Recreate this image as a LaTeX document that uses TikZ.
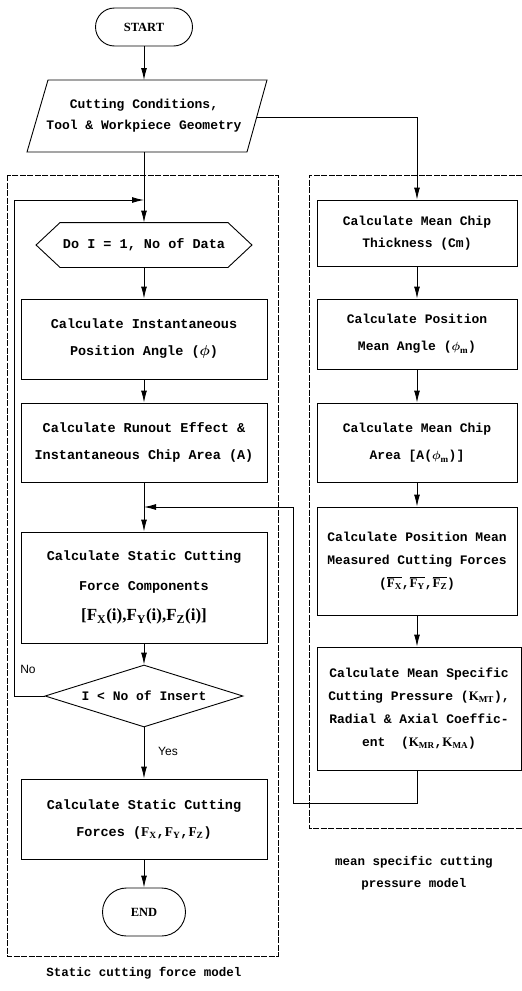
\documentclass[tikz,border=0pt]{standalone}
\usepackage{fontspec}
\usepackage{amsmath}
\setmainfont{Liberation Serif}
\setmonofont{Liberation Mono}
\newfontfamily\sansf{Liberation Sans}
\usetikzlibrary{shapes.geometric,shapes.misc,arrows.meta}
\newcommand{\Fs}[1]{{\rmfamily\bfseries F\textsubscript{#1}}}
\newcommand{\Ks}[1]{{\rmfamily\bfseries K\textsubscript{#1}}}
\newcommand{\Fb}[1]{$\overline{\mathbf{F}_{\mathbf{#1}}}$}
\tikzset{
  lbox/.style={draw, rectangle, minimum width=246, inner sep=2pt, align=center,
    font=\ttfamily\bfseries\fontsize{13.5}{27}\selectfont},
  rbox/.style={draw, rectangle, minimum width=200, inner sep=2pt, align=center,
    font=\ttfamily\bfseries\fontsize{13}{23}\selectfont},
  term/.style={draw, rounded rectangle, inner sep=0pt,
    font=\rmfamily\bfseries\fontsize{12.5}{14}\selectfont},
  plain/.style={inner sep=0pt, align=center, font=\ttfamily\bfseries\fontsize{13}{21}\selectfont},
  frame/.style={line width=0.7pt, dash pattern=on 6pt off 1.5pt},
  flow/.style={-{Latex[length=12pt,width=6pt]}},
}
\begin{document}
\begin{tikzpicture}[x=1pt,y=-1pt,line width=0.9pt]
\useasboundingbox (0,0) rectangle (522,991);

% frames
\draw[frame] (7,175) rectangle (278,956);
\draw[frame] (522,175) -- (309,175) -- (309,828) -- (522,828);

% left column
\node[term, minimum width=97, minimum height=38] (start) at (144,27) {START};
\node[plain, minimum width=200, minimum height=72] (para) at (144,116)
  {Cutting Conditions,\\Tool \& Workpiece Geometry};
\draw (48,80) -- (267,80) -- (247,152) -- (27,152) -- cycle;
\coordinate (paraR) at (257,117);

\node[plain, minimum width=215, minimum height=44, font=\ttfamily\bfseries\fontsize{13.5}{16}\selectfont] (hex) at (144,245) {Do I = 1, No of Data};
\draw (hex.west) -- ([xshift=24pt]hex.north west) -- ([xshift=-24pt]hex.north east)
  -- (hex.east) -- ([xshift=-24pt]hex.south east) -- ([xshift=24pt]hex.south west) -- cycle;

\node[lbox, minimum height=80] (b1) at (144,339)
  {Calculate Instantaneous\\Position Angle ($\boldsymbol{\phi}$)};
\node[lbox, minimum height=79] (b2) at (144,442.5)
  {Calculate Runout Effect \&\\Instantaneous Chip Area (A)};
\node[lbox, minimum height=111, font=\ttfamily\bfseries\fontsize{13.5}{30}\selectfont] (b3) at (144,587.5)
  {Calculate Static Cutting\\Force Components\\{\rmfamily\bfseries\fontsize{17}{20}\selectfont [F\textsubscript{X}(i),F\textsubscript{Y}(i),F\textsubscript{Z}(i)]}};
\node[draw, diamond, aspect=3.2, inner sep=0pt, minimum width=198, minimum height=62,
  font=\ttfamily\bfseries\fontsize{13}{15}\selectfont] (dec) at (144,696) {I < No of Insert};
\node[lbox, minimum height=80] (b4) at (144,819)
  {Calculate Static Cutting\\Forces (\Fs{X},\Fs{Y},\Fs{Z})};
\node[term, minimum width=83, minimum height=48] (end) at (144,912) {END};

\coordinate (loopJ) at (144,200);
\coordinate (fbJ) at (144,507);

\draw[flow] (start) -- (para.south |- 0,80);
\draw[flow] (para.south |- 0,152) -- (hex.north);
\draw[flow] (hex.south) -- (b1.north);
\draw[flow] (b1) -- (b2);
\draw[flow] (b2) -- (b3);
\draw[flow] (b3) -- (dec);
\draw[flow] (dec) -- (b4);
\draw[flow] (b4) -- (end);
\draw[flow] (dec.west) -- ++(-30,0) |- (loopJ);

\node[font=\sansf\fontsize{12}{14}\selectfont] (no) at (28,669) {No};
\node[font=\sansf\fontsize{12}{14}\selectfont] (yes) at (168,751) {Yes};

% right column
\node[rbox, minimum height=66, font=\ttfamily\bfseries\fontsize{13}{22}\selectfont] (r1) at (417,233)
  {Calculate Mean Chip\\Thickness (Cm)};
\node[rbox, minimum height=70, font=\ttfamily\bfseries\fontsize{13}{27}\selectfont] (r2) at (417,334)
  {Calculate Position\\Mean Angle ($\boldsymbol{\phi}_{\mathbf{m}}$)};
\node[rbox, minimum height=79, font=\ttfamily\bfseries\fontsize{13}{27}\selectfont] (r3) at (417,442.5)
  {Calculate Mean Chip\\Area [A($\boldsymbol{\phi}_{\mathbf{m}}$)]};
\node[rbox, minimum height=108] (r4) at (417,561)
  {Calculate Position Mean\\Measured Cutting Forces\\(\Fb{X},\Fb{Y},\Fb{Z})};
\node[rbox, minimum width=204, minimum height=123] (r5) at (419,708.5)
  {Calculate Mean Specific\\Cutting Pressure (\Ks{MT}),\\Radial \& Axial Coeffic-\\ent\ \ (\Ks{MR},\Ks{MA})};

\draw[flow] (paraR) -| (r1.north);
\draw[flow] (r1) -- (r2);
\draw[flow] (r2) -- (r3);
\draw[flow] (r3) -- (r4);
\draw[flow] (r4.south) -- (r4.south |- r5.north);
\draw[flow] (r5.south -| r4.south) -- ++(0,33) -| (293,507) -- (fbJ);

% captions
\node[plain, font=\ttfamily\bfseries\fontsize{12.5}{15}\selectfont] (cap1) at (144,973) {Static cutting force model};
\node[plain, font=\ttfamily\bfseries\fontsize{12.5}{22}\selectfont] (cap2) at (414,873) {mean specific cutting\\pressure model};
\end{tikzpicture}
\end{document}
